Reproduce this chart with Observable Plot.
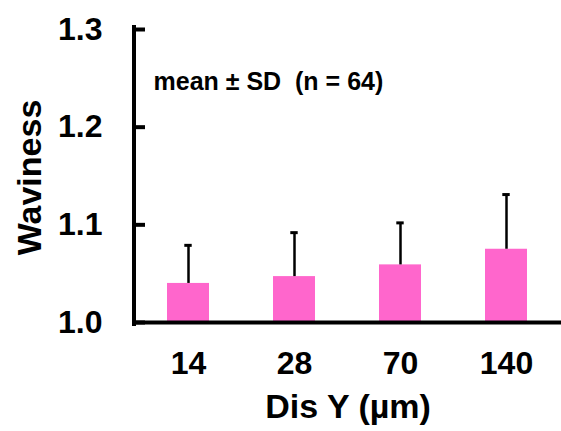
<!DOCTYPE html>
<html>
<head>
<meta charset="utf-8">
<script src="https://cdn.jsdelivr.net/npm/d3@7"></script>
<script src="https://cdn.jsdelivr.net/npm/@observablehq/plot@0.6"></script>
<style>
  html, body { margin: 0; padding: 0; background: #fff; }
</style>
</head>
<body>
<div id="chart"></div>
<script>
const categories = ["14", "28", "70", "140"];
const means = [1.040, 1.047, 1.059, 1.075];
const sds = [0.039, 0.045, 0.043, 0.056];
const yTicks = [1.0, 1.1, 1.2, 1.3];
const yLabel = "Waviness";
const xLabel = "Dis Y (\u00B5m)";
const note = "mean \u00B1 SD\u00A0\u00A0(n = 64)";

const data = categories.map((c, i) => ({dis: c, mean: means[i], sd: sds[i]}));

const W = 561, H = 431;
const mL = 134, mR = 0, mT = 29, mB = 109;

const axisLine = (index, {x, y}, values, dims) => {
  const svg = d3.create("svg:g");
  svg.append("line")
    .attr("x1", dims.marginLeft).attr("x2", dims.marginLeft)
    .attr("y1", y(1.3) - 2).attr("y2", y(1.0) + 2)
    .attr("stroke", "black").attr("stroke-width", 4).attr("stroke-linecap", "square");
  return svg.node();
};

const chart = Plot.plot({
  width: W,
  height: H,
  marginLeft: mL,
  marginRight: mR,
  marginTop: mT,
  marginBottom: mB,
  style: {fontFamily: "'Liberation Sans', Arial, sans-serif", fontWeight: "bold", color: "black", background: "white", overflow: "visible"},
  x: {domain: categories, paddingInner: 0.6, paddingOuter: 0.3},
  y: {domain: [1.0, 1.3]},
  marks: [
    Plot.barY(data, {x: "dis", y1: 1.0, y2: "mean", fill: "#FF66CC"}),
    Plot.ruleX(data, {x: "dis", y1: "mean", y2: d => d.mean + d.sd, stroke: "black", strokeWidth: 2.5}),
    Plot.tickY(data, {x: "dis", y: d => d.mean + d.sd, stroke: "black", strokeWidth: 3, insetLeft: 17.3, insetRight: 17.3}),
    Plot.tickY(yTicks, {y: d => d, stroke: "black", strokeWidth: 4, insetRight: W - mL - mR - 11}),
    Plot.ruleY([1.0], {stroke: "black", strokeWidth: 4}),
    axisLine,
    Plot.axisY({ticks: yTicks, tickSize: 0, tickPadding: 32, fontSize: 32, tickFormat: d3.format(".1f"), label: null}),
    Plot.axisX({tickSize: 0, tickPadding: 29, fontSize: 32, label: null}),
    Plot.text([xLabel], {frameAnchor: "bottom", lineAnchor: "middle", textAnchor: "middle", dy: 85, fontSize: 34, fontWeight: "bold", fill: "black"}),
    Plot.text([yLabel], {frameAnchor: "left", rotate: -90, lineAnchor: "middle", textAnchor: "middle", dx: -104, dy: 1.5, fontSize: 34, fontWeight: "bold", fill: "black"}),
    Plot.text([note], {frameAnchor: "top-left", textAnchor: "start", lineAnchor: "middle", dx: 19, dy: 52, fontSize: 25, fontWeight: "bold", fill: "black"})
  ]
});
document.getElementById("chart").appendChild(chart);
</script>
</body>
</html>
